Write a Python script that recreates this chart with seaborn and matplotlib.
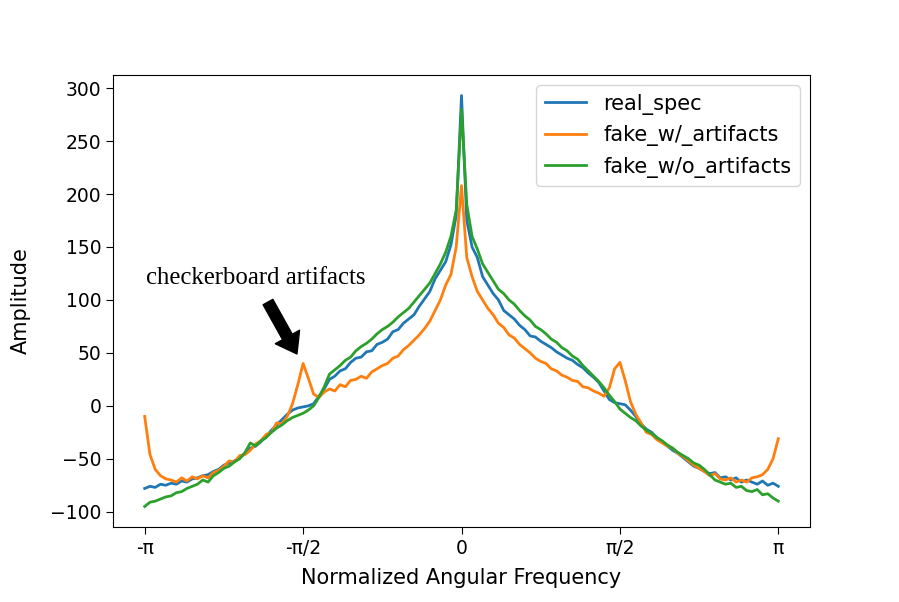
import numpy as np
import pandas as pd
import matplotlib
matplotlib.use("Agg")
import matplotlib.pyplot as plt
import seaborn as sns

# x positions: 121 samples from -pi to pi
n_points = 121
x_vals = np.linspace(-np.pi, np.pi, n_points)

real_spec = [-78, -76, -77, -74, -75, -73, -74, -71, -72, -69, -68, -66, -65, -62, -60, -56, -54, -52, -49, -45,
             -40, -38, -34, -29, -23, -18, -13, -8, -4, -2, -1, 0, 2, 9, 16, 25, 28, 33, 35, 41,
             45, 46, 51, 52, 58, 60, 63, 70, 72, 78, 82, 86, 94, 101, 108, 120, 128, 136, 152, 180,
             293, 175, 150, 140, 122, 114, 106, 100, 90, 86, 82, 76, 72, 66, 65, 61, 58, 55, 51, 48,
             45, 43, 39, 36, 31, 27, 22, 14, 6, 3, 2, 1, -4, -10, -17, -22, -25, -30, -34, -38,
             -42, -45, -49, -53, -57, -59, -62, -64, -63, -68, -67, -70, -68, -72, -70, -72, -74, -71, -75, -73,
             -76]

fake_w_artifacts = [-10, -46, -60, -66, -69, -70, -72, -68, -71, -67, -69, -66, -68, -63, -61, -57, -52, -53, -47, -46,
                    -42, -36, -33, -27, -25, -16, -17, -10, 2, 20, 40, 26, 11, 8, 13, 16, 14, 20, 18, 24,
                    25, 28, 26, 32, 35, 38, 40, 45, 47, 53, 57, 62, 67, 73, 80, 90, 100, 114, 124, 150,
                    208, 140, 122, 108, 100, 92, 86, 78, 74, 67, 64, 58, 54, 50, 45, 42, 40, 35, 33, 29,
                    27, 24, 23, 18, 17, 14, 12, 9, 17, 35, 41, 24, 4, -8, -16, -25, -27, -32, -35, -38,
                    -40, -45, -48, -52, -56, -59, -62, -66, -64, -69, -70, -68, -72, -70, -72, -68, -67, -65, -60, -50,
                    -31]

fake_wo_artifacts = [-95, -91, -90, -88, -86, -85, -82, -81, -78, -76, -74, -70, -72, -66, -63, -59, -57, -53, -50, -44,
                     -35, -38, -33, -30, -25, -21, -18, -14, -11, -9, -7, -4, 0, 8, 18, 30, 34, 38, 43, 46,
                     52, 56, 59, 63, 68, 72, 75, 79, 84, 88, 92, 98, 104, 110, 116, 125, 134, 145, 160, 185,
                     280, 190, 160, 148, 134, 126, 118, 110, 106, 100, 96, 90, 85, 81, 75, 72, 68, 63, 60, 55,
                     52, 47, 44, 38, 33, 28, 23, 17, 10, 4, -3, -7, -11, -14, -19, -23, -26, -30, -33, -37,
                     -40, -44, -47, -50, -54, -56, -60, -65, -70, -72, -74, -73, -77, -76, -80, -81, -79, -84, -83, -87,
                     -90]

series_names = ["real_spec", "fake_w/_artifacts", "fake_w/o_artifacts"]
tick_positions = [-np.pi, -np.pi / 2, 0, np.pi / 2, np.pi]
tick_labels = ["-π", "-π/2", "0", "π/2", "π"]

df = pd.DataFrame({
    "x": np.tile(x_vals, 3),
    "y": real_spec + fake_w_artifacts + fake_wo_artifacts,
    "series": np.repeat(series_names, n_points),
})

plt.rcParams["font.family"] = ["DejaVu Sans"]
fig, ax = plt.subplots(figsize=(8.99, 6.02), dpi=100)
fig.subplots_adjust(left=0.1257, right=0.901, bottom=0.1246, top=0.8754)

palette = {"real_spec": "#1f77b4", "fake_w/_artifacts": "#ff7f0e", "fake_w/o_artifacts": "#2ca02c"}
sns.lineplot(data=df, x="x", y="y", hue="series", palette=palette, linewidth=2.0, ax=ax,
             hue_order=series_names)

ax.set_xticks(tick_positions)
ax.set_xticklabels(tick_labels)
ax.tick_params(labelsize=13.5, length=5)
ax.set_xlabel("Normalized Angular Frequency", fontsize=15, labelpad=7)
ax.set_ylabel("Amplitude", fontsize=15, labelpad=14)
ax.legend(loc="upper right", fontsize=15, handlelength=2.0, title=None)

ax.annotate("", xy=(-1.632, 49), xytext=(-1.919, 98),
            arrowprops=dict(facecolor="black", edgecolor="black", width=8, headwidth=20, headlength=14, shrink=0))
ax.text(-3.126, 115, "checkerboard artifacts", fontsize=17.8, family="Liberation Serif", color="black")

fig.savefig("out.png", dpi=100)
